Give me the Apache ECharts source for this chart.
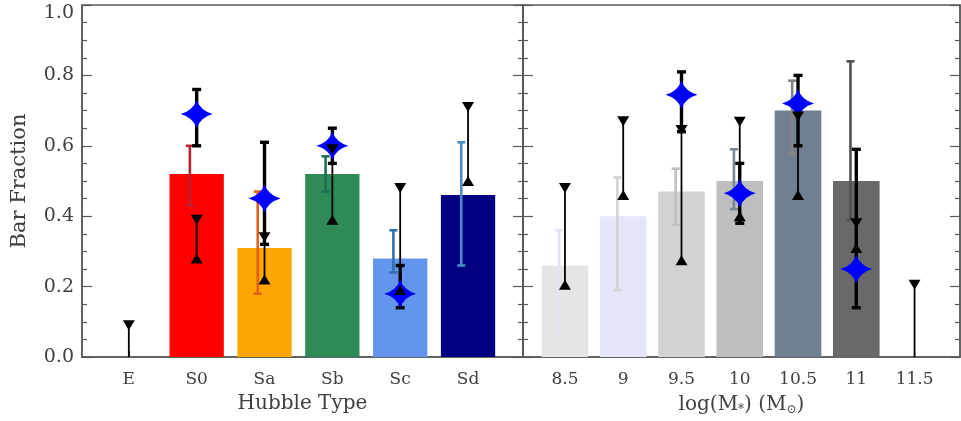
<!DOCTYPE html>
<html>
<head>
<meta charset="utf-8">
<script src="https://cdn.jsdelivr.net/npm/echarts@6/dist/echarts.min.js"></script>
<style>
  html, body { margin: 0; padding: 0; background: #fff; }
  #chart { width: 961px; height: 421px; }
</style>
</head>
<body>
<div id="chart"></div>
<script>
// ---- Hubble-type panel ----
const hubbleTypes   = ['E', 'S0', 'Sa', 'Sb', 'Sc', 'Sd'];
const hubbleBar     = [null, 0.52, 0.31, 0.52, 0.28, 0.46];
const hubbleBarLo   = [null, 0.43, 0.18, 0.47, 0.24, 0.26];
const hubbleBarHi   = [null, 0.60, 0.47, 0.57, 0.36, 0.61];
const hubbleStar    = [null, 0.69, 0.45, 0.60, 0.18, null];
const hubbleStarLo  = [null, 0.60, 0.32, 0.55, 0.14, null];
const hubbleStarHi  = [null, 0.76, 0.61, 0.65, 0.26, null];
const hubbleRangeLo = [null, 0.28, 0.22, 0.39, 0.19, 0.50];   // lower limits (up triangles)
const hubbleRangeHi = [0.09, 0.39, 0.34, 0.59, 0.48, 0.71];   // upper limits (down triangles)

// ---- stellar-mass panel ----
const massBins       = [8.5, 9, 9.5, 10, 10.5, 11, 11.5];
const massTickLabels = ['8.5', '9', '9.5', '10', '10.5', '11', '11.5'];
const massBar        = [0.26, 0.40, 0.47, 0.50, 0.70, 0.50, null];
const massBarLo      = [0.06, 0.19, 0.375, 0.42, 0.58, 0.39, null];
const massBarHi      = [0.36, 0.51, 0.535, 0.59, 0.785, 0.84, null];
const massStar       = [null, null, 0.745, 0.465, 0.72, 0.25, null];
const massStarLo     = [null, null, 0.64, 0.38, 0.60, 0.14, null];
const massStarHi     = [null, null, 0.81, 0.55, 0.80, 0.59, null];
const massRangeLo    = [0.205, 0.46, 0.275, 0.40, 0.46, 0.31, null];
const massRangeHi    = [0.48, 0.67, 0.645, 0.668, 0.683, 0.38, 0.205];

// colours
const hubbleFill = ['#000000', '#ff0000', '#ffa500', '#2e8b57', '#6495ed', '#000080'];
const hubbleErr  = ['#000000', '#b8232b', '#e2601c', '#1e6e58', '#336fb0', '#4a8bc6'];
const massFill   = ['#e5e5e5', '#e6e6fa', '#d3d3d3', '#bebebe', '#708090', '#696969', '#000000'];
const massErr    = ['#e3e3f3', '#d3d3d3', '#c0c0c0', '#7a8696', '#848484', '#505050', '#000000'];

const FONT = 'DejaVu Serif';
const TEXT = '#404040';
const FRAME = '#5a5a5a';

const hubbleX = hubbleTypes.map((_, i) => i);

// rows: [x, value, 0, 0, index]
function pack(xs, a) {
  const out = [];
  xs.forEach((x, i) => {
    if (a[i] == null) return;
    out.push([x, a[i], 0, 0, i]);
  });
  return out;
}

// rows: [x, lo, hi, 0, index]; a missing lower limit runs down to the axis
function rangePack(xs, lo, hi) {
  const out = [];
  xs.forEach((x, i) => {
    if (hi[i] == null) return;
    out.push([x, lo[i] == null ? 0 : lo[i], hi[i], 0, i]);
  });
  return out;
}

function errPack(xs, val, lo, hi) {
  const out = [];
  xs.forEach((x, i) => {
    if (val[i] == null) return;
    out.push([x, lo[i], hi[i], 0, i]);
  });
  return out;
}

function points(xs, vals) {
  const out = [];
  xs.forEach((x, i) => { if (vals[i] != null) out.push([x, vals[i]]); });
  return out;
}

function barRender(width, fills) {
  return function (params, api) {
    const x = api.value(0);
    const top = api.coord([x, api.value(1)]);
    const base = api.coord([x, 0]);
    const w = api.size([width, 0])[0];
    return {
      type: 'rect',
      shape: { x: top[0] - w / 2, y: top[1], width: w, height: base[1] - top[1] },
      style: { fill: fills[api.value(4)] }
    };
  };
}

function errRender(offset, capW, lw, colors, caps) {
  return function (params, api) {
    const x = api.value(0) + offset;
    const lo = api.coord([x, api.value(1)]);
    const hi = api.coord([x, api.value(2)]);
    const color = colors ? colors[api.value(4)] : '#000';
    const h = capW / 2;
    const kids = [
      { type: 'line', shape: { x1: lo[0], y1: lo[1], x2: hi[0], y2: hi[1] }, style: { stroke: color, lineWidth: lw } }
    ];
    if (caps) {
      kids.push({ type: 'line', shape: { x1: hi[0] - h, y1: hi[1], x2: hi[0] + h, y2: hi[1] }, style: { stroke: color, lineWidth: lw } });
      kids.push({ type: 'line', shape: { x1: lo[0] - h, y1: lo[1], x2: lo[0] + h, y2: lo[1] }, style: { stroke: color, lineWidth: lw } });
    }
    return { type: 'group', children: kids };
  };
}

const STAR = 'path://M0,-10 Q2.4,-2.4 10,0 Q2.4,2.4 0,10 Q-2.4,2.4 -10,0 Q-2.4,-2.4 0,-10 Z';

function panelSeries(xIdx, yIdx, xs, d, opts) {
  const base = { xAxisIndex: xIdx, yAxisIndex: yIdx, silent: true, animation: false };
  return [
    Object.assign({}, base, {
      type: 'custom', z: 1, renderItem: barRender(opts.barW, opts.fill),
      encode: { x: 0, y: 1 }, data: pack(xs, d.bar)
    }),
    Object.assign({}, base, {
      type: 'custom', z: 2, renderItem: errRender(opts.errOff, 8, 2.6, opts.err, true),
      encode: { x: 0, y: [1, 2] }, data: errPack(xs, d.bar, d.barLo, d.barHi)
    }),
    Object.assign({}, base, {
      type: 'custom', z: 3, renderItem: errRender(0, 0, 1.8, null, false),
      encode: { x: 0, y: [1, 2] }, data: rangePack(xs, d.rLo, d.rHi)
    }),
    Object.assign({}, base, {
      type: 'custom', z: 3, renderItem: errRender(0, 9, 3.4, null, true),
      encode: { x: 0, y: [1, 2] }, data: errPack(xs, d.star, d.starLo, d.starHi)
    }),
    Object.assign({}, base, {
      type: 'scatter', z: 4, symbol: STAR, symbolSize: [32, 28],
      itemStyle: { color: '#0000ff', opacity: 1 }, data: points(xs, d.star)
    }),
    Object.assign({}, base, {
      type: 'scatter', z: 5, symbol: 'triangle', symbolSize: [12, 10], symbolRotate: 180,
      itemStyle: { color: '#000', opacity: 1 }, data: points(xs, d.rHi)
    }),
    Object.assign({}, base, {
      type: 'scatter', z: 5, symbol: 'triangle', symbolSize: [12, 10],
      itemStyle: { color: '#000', opacity: 1 }, data: points(xs, d.rLo)
    })
  ];
}

function yAxis(gridIndex, position, labels) {
  return {
    type: 'value', gridIndex, position, min: 0, max: 1, interval: 0.2,
    axisLine: { show: true, onZero: false, lineStyle: { color: FRAME, width: 1.5 } },
    axisTick: { show: true, inside: true, length: 10, lineStyle: { color: FRAME, width: 1.2 } },
    minorTick: { show: true, splitNumber: 4, length: 5, lineStyle: { color: FRAME, width: 1.2 } },
    splitLine: { show: false },
    axisLabel: labels ? {
      show: true, margin: 8, fontFamily: FONT, fontSize: 19, color: TEXT,
      // the topmost label sits just below the frame so it stays fully inside the canvas
      formatter: v => (v >= 1 ? '{top|' + v.toFixed(1) + '}' : v.toFixed(1)),
      rich: { top: { fontFamily: FONT, fontSize: 19, color: TEXT, padding: [16, 0, 0, 0] } }
    } : { show: false }
  };
}

const chart = echarts.init(document.getElementById('chart'), null, { renderer: 'canvas' });

chart.setOption({
  animation: false,
  backgroundColor: '#fff',
  grid: [
    { left: 82, top: 5, width: 441, height: 352, show: true, borderColor: FRAME, borderWidth: 1.5, backgroundColor: 'transparent' },
    { left: 523, top: 5, width: 437, height: 352, show: true, borderColor: FRAME, borderWidth: 1.5, backgroundColor: 'transparent' }
  ],
  xAxis: [
    {
      type: 'value', gridIndex: 0, min: -0.69, max: 5.81,
      name: 'Hubble Type', nameLocation: 'middle', nameGap: 37,
      nameTextStyle: { fontFamily: FONT, fontSize: 20, color: TEXT },
      axisLine: { show: true, onZero: false, lineStyle: { color: FRAME, width: 1.5 } },
      axisTick: { show: true, inside: true, length: 6, customValues: hubbleX, lineStyle: { color: FRAME, width: 1.2 } },
      splitLine: { show: false },
      axisLabel: {
        show: true, margin: 14, fontFamily: FONT, fontSize: 17, color: TEXT,
        customValues: hubbleX, formatter: v => hubbleTypes[Math.round(v)]
      }
    },
    {
      type: 'value', gridIndex: 1, min: 8.14, max: 11.89,
      name: 'log(M{s|*}) (M{s|⊙})', nameLocation: 'middle', nameGap: 37,
      nameTextStyle: {
        fontFamily: FONT, fontSize: 20, color: TEXT,
        rich: { s: { fontFamily: FONT, fontSize: 12, color: TEXT, verticalAlign: 'bottom', padding: [10, 0, 0, 0] } }
      },
      axisLine: { show: true, onZero: false, lineStyle: { color: FRAME, width: 1.5 } },
      axisTick: { show: true, inside: true, length: 6, customValues: massBins, lineStyle: { color: FRAME, width: 1.2 } },
      splitLine: { show: false },
      axisLabel: {
        show: true, margin: 14, fontFamily: FONT, fontSize: 17, color: TEXT,
        customValues: massBins, formatter: v => massTickLabels[massBins.indexOf(v)]
      }
    }
  ],
  yAxis: [
    Object.assign(yAxis(0, 'left', true), {
      name: 'Bar Fraction', nameLocation: 'middle', nameGap: 52,
      nameTextStyle: { fontFamily: FONT, fontSize: 21, color: TEXT }
    }),
    yAxis(0, 'right', false),
    yAxis(1, 'left', false),
    yAxis(1, 'right', false)
  ],
  series: [].concat(
    panelSeries(0, 0, hubbleX, {
      bar: hubbleBar, barLo: hubbleBarLo, barHi: hubbleBarHi,
      star: hubbleStar, starLo: hubbleStarLo, starHi: hubbleStarHi,
      rLo: hubbleRangeLo, rHi: hubbleRangeHi
    }, { barW: 0.8, errOff: -0.1, fill: hubbleFill, err: hubbleErr }),
    panelSeries(1, 2, massBins, {
      bar: massBar, barLo: massBarLo, barHi: massBarHi,
      star: massStar, starLo: massStarLo, starHi: massStarHi,
      rLo: massRangeLo, rHi: massRangeHi
    }, { barW: 0.4, errOff: -0.05, fill: massFill, err: massErr })
  )
});
</script>
</body>
</html>
